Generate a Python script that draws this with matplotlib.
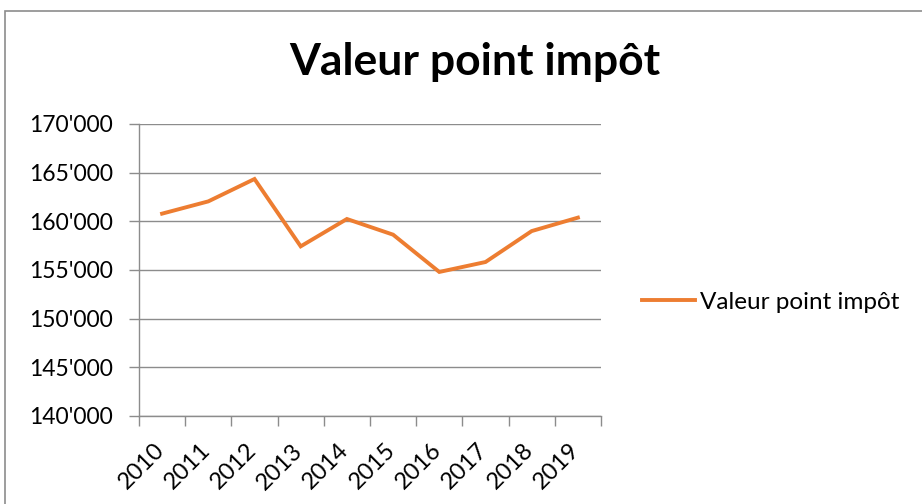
import matplotlib
matplotlib.use("Agg")
import matplotlib.pyplot as plt
from matplotlib.patches import Rectangle
from matplotlib.ticker import FuncFormatter, FixedLocator
from matplotlib.transforms import ScaledTranslation

years = ["2010", "2011", "2012", "2013", "2014", "2015", "2016", "2017", "2018", "2019"]
values = [160790, 162050, 164350, 157430, 160240, 158630, 154800, 155820, 159000, 160380]
series_name = "Valeur point impôt"
title = "Valeur point impôt"

plt.rcParams['font.family'] = ['Lato', 'DejaVu Sans']

W, H = 922, 504
fig = plt.figure(figsize=(W / 100, H / 100), dpi=100)

# chart border (Excel frame)
fig.patches.append(Rectangle((5 / W, -0.1), 2.0, (H - 11) / H + 0.1, transform=fig.transFigure,
                             fill=False, edgecolor='#8c8c8c', linewidth=1.2))

left, right, top, bottom = 139, 601, 124, 416
ax = fig.add_axes([left / W, 1 - bottom / H, (right - left) / W, (bottom - top) / H])

x = list(range(len(years)))
line, = ax.plot(x, values, color='#ED7D31', linewidth=2.8, solid_joinstyle='miter', label=series_name)

ax.set_xlim(-0.5, len(years) - 0.5)
ax.set_ylim(140000, 170000)
ax.set_yticks(range(140000, 170001, 5000))
ax.yaxis.set_major_formatter(FuncFormatter(lambda v, p: f"{int(v):,}".replace(",", "'")))

ax.xaxis.set_major_locator(FixedLocator(x))
ax.xaxis.set_minor_locator(FixedLocator([i - 0.5 for i in range(len(years) + 1)]))
ax.set_xticklabels(years, rotation=45, ha='right', va='top', rotation_mode='default')
ax.tick_params(axis='x', which='major', length=0, pad=17, labelsize=17)
ax.tick_params(axis='x', which='minor', length=7, width=1, color='#8c8c8c', direction='out')
ax.tick_params(axis='y', which='major', length=7, width=1, color='#8c8c8c', direction='out', labelsize=16.5, pad=12)
off = ScaledTranslation(6 / 100, 0, fig.dpi_scale_trans)
for lab in ax.get_xticklabels():
    lab.set_transform(lab.get_transform() + off)

ax.grid(axis='y', color='#8c8c8c', linewidth=1)
ax.set_axisbelow(True)
for s in ['top', 'right']:
    ax.spines[s].set_visible(False)
for s in ['left', 'bottom']:
    ax.spines[s].set_color('#8c8c8c')
    ax.spines[s].set_linewidth(1)

fig.text(475 / W, 1 - 62 / H, title, ha='center', va='center', fontsize=32, fontweight='bold')

fig.legend(handles=[line], loc='center left', bbox_to_anchor=(620 / W, 1 - 302 / H),
           frameon=False, fontsize=17.5, handlelength=2.2, handletextpad=0.2)

fig.savefig("out.png", dpi=100)
